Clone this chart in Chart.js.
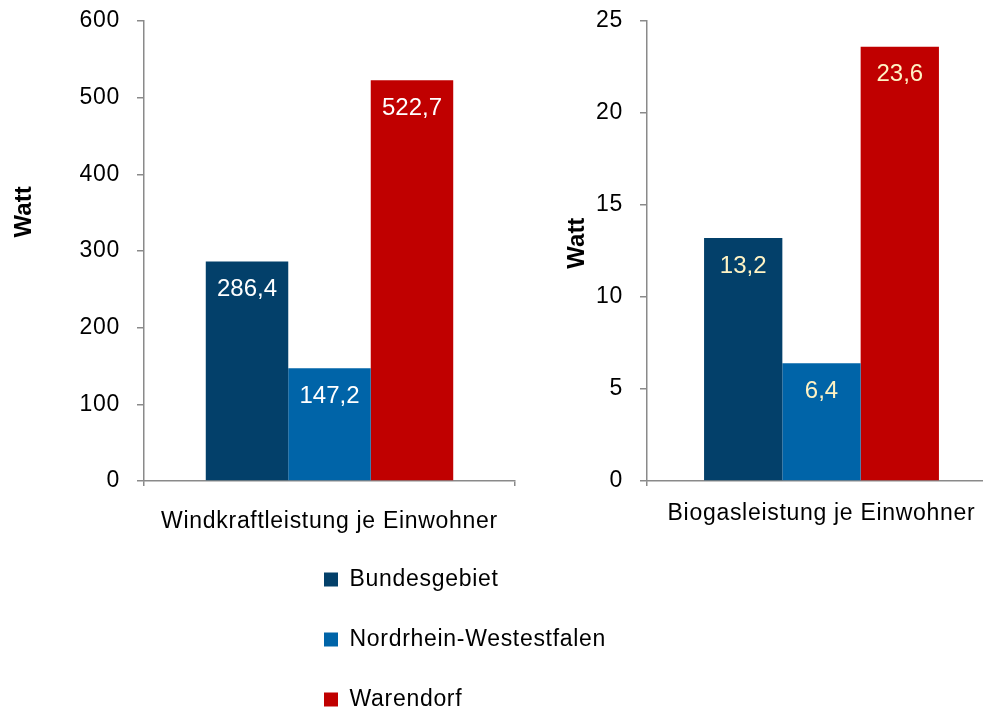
<!DOCTYPE html>
<html><head><meta charset="utf-8">
<script src="https://cdn.jsdelivr.net/npm/chart.js@4.4.1/dist/chart.umd.min.js"></script>
<style>
html,body{margin:0;padding:0;background:#fff;overflow:hidden;width:983px;height:708px;position:relative;}
canvas{position:absolute;}
#c1{left:0;top:0;}
#c2{left:540px;top:0;}
#c3{left:287px;top:531px;}
</style></head><body>
<canvas id="c1" width="530" height="540"></canvas>
<canvas id="c2" width="470" height="540"></canvas>
<canvas id="c3" width="800" height="260"></canvas>
<script>
// ---- data ----
const seriesNames = ['Bundesgebiet', 'Nordrhein-Westestfalen', 'Warendorf'];
const seriesColors = ['#03406A', '#0064A8', '#C00000'];
const windCategory = ['Windkraftleistung je Einwohner'];
const windValues = [286.4, 147.2, 522.7];
const biogasCategory = ['Biogasleistung je Einwohner'];
const biogasValues = [13.2, 6.4, 23.6];
const windTicks = [0, 100, 200, 300, 400, 500, 600];
const biogasTicks = [0, 5, 10, 15, 20, 25];
const yAxisTitle = 'Watt';

// ---- helpers ----
const FAMILY = '"Liberation Sans", Arial, Helvetica, sans-serif';
const AXIS_GRAY = '#8a8a8a';
const TEXT_SIZE = 23;
const fmt = v => v.toFixed(1).replace('.', ',');

const spacingPlugin = {
  id: 'spacing',
  beforeUpdate(c) { c.ctx.letterSpacing = '0.7px'; },
  beforeDraw(c) { c.ctx.letterSpacing = '0.7px'; }
};

const valueLabels = {
  id: 'valueLabels',
  afterDatasetsDraw(chart, args, opts) {
    if (!opts || !opts.show) return;
    const ctx = chart.ctx;
    ctx.save();
    ctx.font = opts.font;
    ctx.fillStyle = opts.color;
    ctx.letterSpacing = '0px';
    ctx.textAlign = 'center';
    ctx.textBaseline = 'middle';
    chart.data.datasets.forEach((ds, i) => {
      chart.getDatasetMeta(i).data.forEach((el, j) => {
        ctx.fillText(fmt(ds.data[j]), el.x, el.y + opts.offset);
      });
    });
    ctx.restore();
  }
};

const axisTitle = {
  id: 'axisTitle',
  afterDraw(chart, args, opts) {
    if (!opts || !opts.text) return;
    const ctx = chart.ctx;
    const a = chart.chartArea;
    ctx.save();
    ctx.letterSpacing = '0px';
    ctx.font = 'bold 24px ' + FAMILY;
    ctx.fillStyle = '#000';
    ctx.textAlign = 'center';
    ctx.textBaseline = 'middle';
    ctx.translate(opts.x, a.top + opts.frac * (a.bottom - a.top));
    ctx.rotate(-Math.PI / 2);
    ctx.fillText(opts.text, 0, 0);
    ctx.restore();
  }
};

function barChart(canvasId, labels, values, ticks, cfg) {
  return new Chart(document.getElementById(canvasId), {
    type: 'bar',
    data: {
      labels: labels,
      datasets: seriesNames.map((n, i) => ({
        label: n,
        data: [values[i]],
        backgroundColor: seriesColors[i],
        borderWidth: 0,
        categoryPercentage: cfg.catPct,
        barPercentage: 1.0
      }))
    },
    options: {
      responsive: false,
      animation: false,
      devicePixelRatio: 1,
      layout: { padding: { top: 21, right: cfg.padRight, left: 0, bottom: 0 } },
      plugins: {
        legend: { display: false },
        tooltip: { enabled: false },
        valueLabels: { show: true, font: '24px ' + FAMILY, color: cfg.labelColor, offset: 28 },
        axisTitle: { text: yAxisTitle, x: cfg.titleX, frac: cfg.titleFrac }
      },
      scales: {
        x: {
          grid: { display: true, drawOnChartArea: false, drawTicks: true, tickLength: 5, color: AXIS_GRAY, lineWidth: 1.5 },
          border: { display: true, color: AXIS_GRAY, width: 1.5 },
          ticks: { font: { size: TEXT_SIZE, family: FAMILY }, color: '#000', padding: cfg.xPad },
          afterFit(s) { s.height = 59; s.paddingLeft = 0; s.paddingRight = 0; }
        },
        y: {
          min: ticks[0],
          max: ticks[ticks.length - 1],
          afterBuildTicks(s) { s.ticks = ticks.map(v => ({ value: v })); },
          ticks: { font: { size: TEXT_SIZE, family: FAMILY }, color: '#000', padding: 17 },
          grid: { display: true, drawOnChartArea: false, drawTicks: true, tickLength: 7, color: AXIS_GRAY, lineWidth: 1.5 },
          border: { display: true, color: AXIS_GRAY, width: 1.5 },
          afterFit(s) { s.width = cfg.yWidth; s.paddingTop = 0; s.paddingBottom = 0; }
        }
      }
    },
    plugins: [spacingPlugin, valueLabels, axisTitle]
  });
}

barChart('c1', windCategory, windValues, windTicks,
  { padRight: 15, yWidth: 144, xPad: 22, catPct: 0.667, labelColor: '#FFFFFF', titleX: 24, titleFrac: 0.415 });
barChart('c2', biogasCategory, biogasValues, biogasTicks,
  { padRight: 14, yWidth: 107, xPad: 14, catPct: 0.673, labelColor: '#FFF3C4', titleX: 37, titleFrac: 0.483 });

// legend
new Chart(document.getElementById('c3'), {
  type: 'bar',
  data: {
    labels: [],
    datasets: seriesNames.map((n, i) => ({ label: n, data: [], backgroundColor: seriesColors[i], borderWidth: 0 }))
  },
  options: {
    responsive: false,
    animation: false,
    devicePixelRatio: 1,
    layout: { padding: 0 },
    scales: { x: { display: false }, y: { display: false } },
    plugins: {
      tooltip: { enabled: false },
      legend: {
        position: 'left',
        align: 'start',
        labels: { boxWidth: 14, boxHeight: 14, padding: 37, color: '#000', font: { size: TEXT_SIZE, family: FAMILY } }
      }
    }
  },
  plugins: [spacingPlugin]
});
</script>
</body></html>
